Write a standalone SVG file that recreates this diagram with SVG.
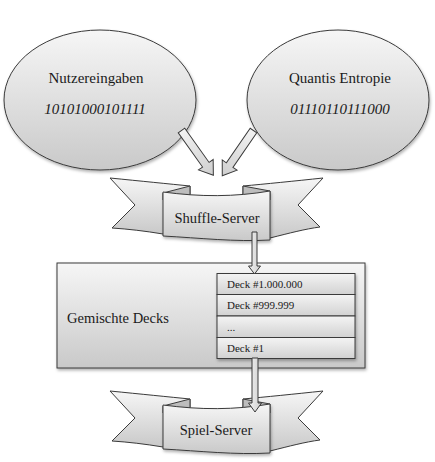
<svg xmlns="http://www.w3.org/2000/svg" width="435" height="462" viewBox="0 0 435 462">
<defs>
<linearGradient id="g" x1="0" y1="0" x2="0" y2="1">
<stop offset="0" stop-color="#f6f6f6"/>
<stop offset="1" stop-color="#c9c9c9"/>
</linearGradient>
<linearGradient id="gr" x1="0" y1="0" x2="0" y2="1">
<stop offset="0" stop-color="#f4f4f4"/>
<stop offset="1" stop-color="#d2d2d2"/>
</linearGradient>
<linearGradient id="ga" x1="0" y1="0" x2="1" y2="0">
<stop offset="0" stop-color="#f2f2f2"/>
<stop offset="1" stop-color="#cfcfcf"/>
</linearGradient>
<filter id="sh" x="-10%" y="-10%" width="130%" height="140%">
<feDropShadow dx="1" dy="2" stdDeviation="1.5" flood-color="#000" flood-opacity="0.3"/>
</filter>
</defs>
<style>
.shape{fill:url(#g);stroke:#3a3a3a;stroke-width:1}
.row{fill:url(#gr);stroke:#3a3a3a;stroke-width:1}
.fold{fill:#bdbdbd;stroke:#3a3a3a;stroke-width:1}
.arrow{fill:url(#ga);stroke:#3a3a3a;stroke-width:1;stroke-linejoin:miter}
text{font-family:"Liberation Serif","Times New Roman",serif;fill:#1a1a1a}
.t{font-size:15px;text-anchor:middle}
.i{font-size:15px;font-style:italic;text-anchor:middle}
.d{font-size:11px}
</style>

<g id="nutzereingaben">
<ellipse class="shape" cx="100" cy="100" rx="96" ry="70" filter="url(#sh)"/>
<text class="t" x="96" y="83">Nutzereingaben</text>
<text class="i" x="95" y="114">10101000101111</text>
</g>

<g id="quantis">
<ellipse class="shape" cx="338" cy="100" rx="91" ry="70" filter="url(#sh)"/>
<text class="t" x="340" y="83">Quantis Entropie</text>
<text class="i" x="340" y="114">01110110111000</text>
</g>

<g id="shuffle-server">
<path class="shape" d="M110,178 C140,181 170,184 190,186 L190,230 L163,234 C145,231 128,229 112,228 L135,205 Z"/>
<path class="shape" d="M323,178 C295,181 265,184 243,186 L243,230 L270,238 C290,233 305,229 320,227 L298,205 Z"/>
<path class="fold" d="M163,193 L190,186 L190,195 L163,200 Z"/>
<path class="fold" d="M243,186 L270,191 L270,200 L243,195 Z"/>
<path class="shape" d="M163,192 C200,197 235,197 270,191 L270,240 C235,242 200,238 163,236 Z" filter="url(#sh)"/>
<text class="t" x="217" y="223" style="font-size:14.5px">Shuffle-Server</text>
</g>

<g id="gemischte-decks">
<rect class="shape" x="57" y="263" width="308" height="105" filter="url(#sh)"/>
<text x="67" y="323" style="font-size:14.5px">Gemischte Decks</text>
<g filter="url(#sh)">
<rect class="row" x="217" y="273.5" width="138" height="21"/>
<rect class="row" x="217" y="294.5" width="138" height="21.5"/>
<rect class="row" x="217" y="316" width="138" height="21.5"/>
<rect class="row" x="217" y="337.5" width="138" height="21"/>
</g>
<text class="d" x="227" y="288">Deck #1.000.000</text>
<text class="d" x="227" y="309">Deck #999.999</text>
<text class="d" x="227" y="331">...</text>
<text class="d" x="227" y="352">Deck #1</text>
</g>

<g id="spiel-server" transform="translate(0,213)">
<path class="shape" d="M110,178 C140,181 170,184 190,186 L190,230 L163,234 C145,231 128,229 112,228 L135,205 Z"/>
<path class="shape" d="M323,178 C295,181 265,184 243,186 L243,230 L270,238 C290,233 305,229 320,227 L298,205 Z"/>
<path class="fold" d="M163,193 L190,186 L190,195 L163,200 Z"/>
<path class="fold" d="M243,186 L270,191 L270,200 L243,195 Z"/>
<path class="shape" d="M163,192 C200,197 235,197 270,191 L270,240 C235,242 200,238 163,236 Z" filter="url(#sh)"/>
<text class="t" x="216" y="222" style="font-size:14.5px">Spiel-Server</text>
</g>

<g id="connectors">
<path class="arrow" transform="translate(181.5,130.5) rotate(54.6)" d="M0,-4 L42,-4 L42,-9 L55,0 L42,9 L42,4 L0,4 Z"/>
<path class="arrow" transform="translate(253.5,130.5) rotate(124.6)" d="M0,-4 L42,-4 L42,-9 L55,0 L42,9 L42,4 L0,4 Z"/>
<path class="arrow" d="M252,232 L257,232 L257,266 L260.5,266 L254.5,274 L248.5,266 L252,266 Z"/>
<path class="arrow" d="M252,358 L258,358 L258,403 L261.5,403 L255,412 L248.5,403 L252,403 Z"/>
</g>
</svg>
